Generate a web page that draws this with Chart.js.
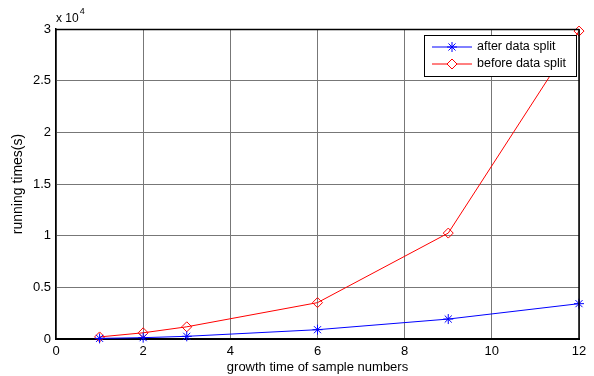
<!DOCTYPE html>
<html>
<head>
<meta charset="utf-8">
<script src="https://cdn.jsdelivr.net/npm/chart.js@4/dist/chart.umd.min.js"></script>
<style>
  html, body { margin: 0; padding: 0; background: #fff; }
  #wrap { width: 594px; height: 376px; }
</style>
</head>
<body>
<div id="wrap"><canvas id="c" width="594" height="376"></canvas></div>
<script>
// sample growth factor on x, running time in seconds on y
var sampleGrowth = [1, 2, 3, 6, 9, 12];
var afterSplit = [60, 130, 260, 900, 1930, 3420];
var beforeSplit = [200, 600, 1180, 3520, 10250, 29800];
var xTicks = [0, 2, 4, 6, 8, 10, 12];
var yTicks = [0, 0.5, 1, 1.5, 2, 2.5, 3];

var FONT = 'Liberation Sans, Arial, sans-serif';

// box around the plot, the "x 10^4" mark and a MATLAB style legend
var matlabBits = {
    id: 'matlabBits',
    afterDraw: function(chart) {
        var ctx = chart.ctx, a = chart.chartArea;
        ctx.save();
        ctx.strokeStyle = '#000';
        ctx.lineWidth = 1.5;
        ctx.beginPath();
        ctx.moveTo(a.left, a.top + 0.5);
        ctx.lineTo(a.right, a.top + 0.5);
        ctx.moveTo(a.right, a.top);
        ctx.lineTo(a.right, a.bottom);
        ctx.stroke();

        ctx.fillStyle = '#000';
        ctx.textBaseline = 'middle';
        ctx.textAlign = 'left';
        ctx.font = '12px ' + FONT;
        ctx.fillText('x 10', a.left, a.top - 10);
        var w = ctx.measureText('x 10').width;
        ctx.font = '9px ' + FONT;
        ctx.fillText('4', a.left + w + 1, a.top - 17);

        // legend
        var bw = 152, bh = 41;
        var bx = a.right - 3 - bw, by = a.top + 6;
        ctx.fillStyle = '#fff';
        ctx.fillRect(bx, by, bw, bh);
        ctx.strokeStyle = '#000';
        ctx.lineWidth = 1;
        ctx.strokeRect(bx + 0.5, by + 0.5, bw, bh);
        ctx.font = '12.5px ' + FONT;
        chart.data.datasets.forEach(function(ds, i) {
            var yy = by + 12 + i * 17;
            ctx.strokeStyle = ds.borderColor;
            ctx.lineWidth = 1;
            ctx.beginPath();
            ctx.moveTo(bx + 8, yy);
            ctx.lineTo(bx + 48, yy);
            ctx.stroke();
            ctx.fillStyle = '#fff';
            ctx.strokeStyle = ds.pointBorderColor;
            Chart.helpers.drawPoint(ctx, {
                pointStyle: ds.pointStyle,
                radius: ds.pointRadius,
                borderWidth: 1
            }, bx + 28, yy);
            ctx.fillStyle = '#000';
            ctx.fillText(ds.label, bx + 53, yy);
        });
        ctx.restore();
    }
};

new Chart(document.getElementById('c').getContext('2d'), {
    type: 'line',
    data: {
        labels: sampleGrowth,
        datasets: [{
            label: 'after data split',
            data: sampleGrowth.map(function(x, i) { return {x: x, y: afterSplit[i]}; }),
            borderColor: '#0000ff',
            backgroundColor: '#0000ff',
            pointBorderColor: '#0000ff',
            pointBackgroundColor: 'rgba(0,0,0,0)',
            pointStyle: 'star',
            pointRadius: 5,
            borderWidth: 1,
            tension: 0,
            clip: false
        }, {
            label: 'before data split',
            data: sampleGrowth.map(function(x, i) { return {x: x, y: beforeSplit[i]}; }),
            borderColor: '#ff0000',
            backgroundColor: '#ff0000',
            pointBorderColor: '#ff0000',
            pointBackgroundColor: 'rgba(0,0,0,0)',
            pointStyle: 'rectRot',
            pointRadius: 5,
            borderWidth: 1,
            tension: 0,
            clip: false
        }]
    },
    options: {
        responsive: false,
        animation: false,
        events: [],
        layout: { padding: { left: 0, right: 15, top: 29, bottom: 0 } },
        plugins: {
            legend: { display: false },
            tooltip: { enabled: false }
        },
        scales: {
            x: {
                type: 'linear',
                min: 0, max: 12,
                afterBuildTicks: function(s) { s.ticks = xTicks.map(function(v) { return {value: v}; }); },
                afterFit: function(s) { s.height = 37; },
                ticks: { color: '#000', font: { family: FONT, size: 13 }, padding: 5, maxRotation: 0 },
                grid: { color: '#777', lineWidth: 1, drawTicks: false },
                border: { color: '#000', width: 2 },
                title: { display: true, text: 'growth time of sample numbers', color: '#000',
                         font: { family: FONT, size: 13 }, padding: { top: 0, bottom: 1 } }
            },
            y: {
                min: 0, max: 30000,
                afterBuildTicks: function(s) { s.ticks = yTicks.map(function(v) { return {value: v * 10000}; }); },
                afterFit: function(s) { s.width = 56; },
                ticks: { color: '#000', font: { family: FONT, size: 13 }, padding: 5,
                         callback: function(v) { return String(v / 10000); } },
                grid: { color: '#777', lineWidth: 1, drawTicks: false },
                border: { color: '#000', width: 1.5 },
                title: { display: true, text: 'running times(s)', color: '#000',
                         font: { family: FONT, size: 14 }, padding: { top: 10, bottom: 0 } }
            }
        }
    },
    plugins: [matlabBits]
});
</script>
</body>
</html>
